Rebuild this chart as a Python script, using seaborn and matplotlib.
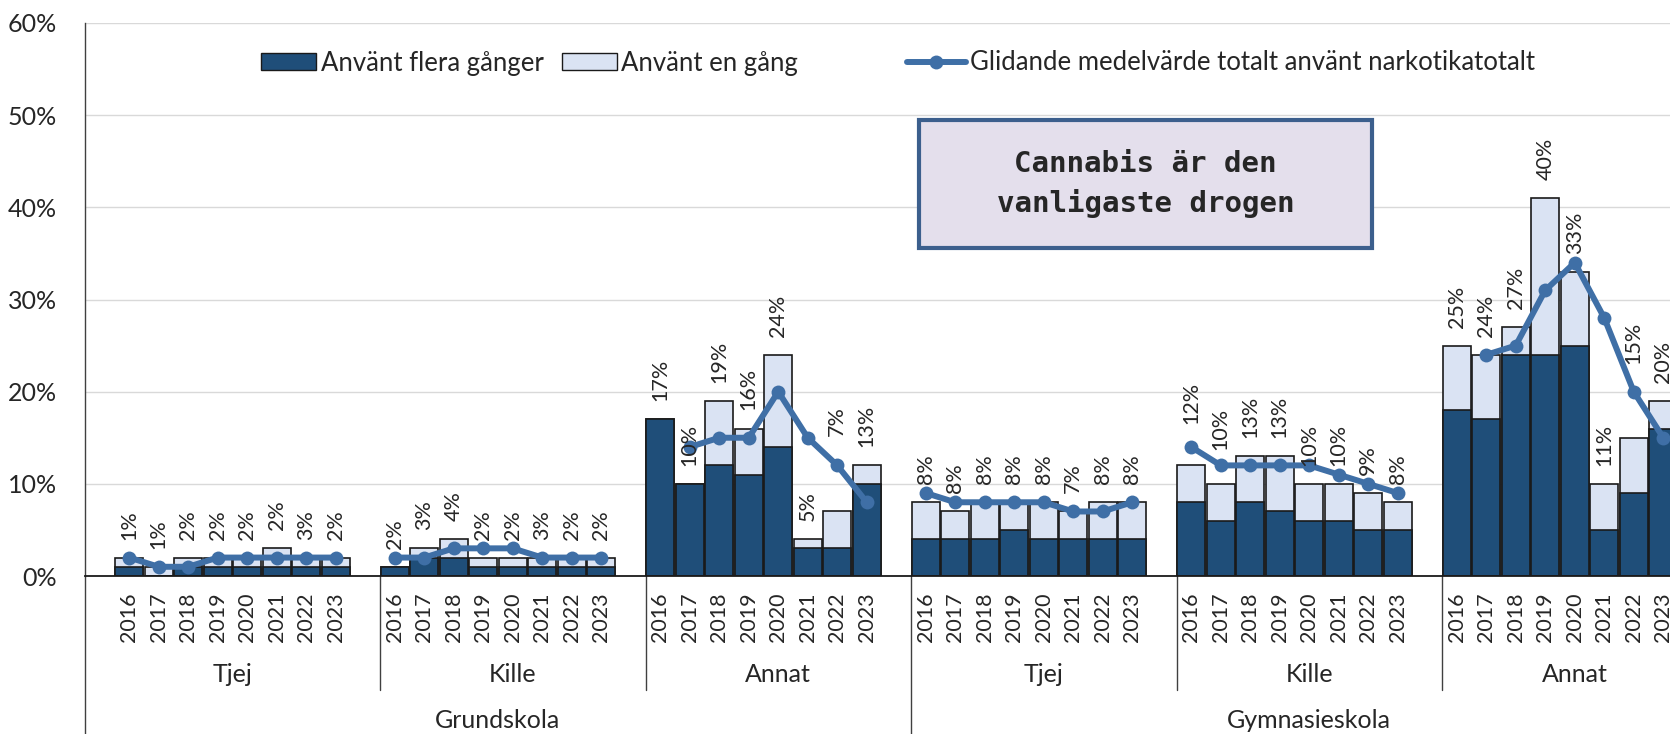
import numpy as np
import pandas as pd
import matplotlib
matplotlib.use("Agg")
import matplotlib.pyplot as plt
import matplotlib.transforms as mtransforms
from matplotlib.patches import Patch, Rectangle
from matplotlib.lines import Line2D
import seaborn as sns

years = ["2016", "2017", "2018", "2019", "2020", "2021", "2022", "2023"]
schools = ["Grundskola", "Gymnasieskola"]
genders = ["Tjej", "Kille", "Annat"]

# använt flera gånger (%)
flera_grund_tjej = [1, 0, 1, 1, 1, 1, 1, 1]
flera_grund_kille = [1, 2, 2, 1, 1, 1, 1, 1]
flera_grund_annat = [17, 10, 12, 11, 14, 3, 3, 10]
flera_gymn_tjej = [4, 4, 4, 5, 4, 4, 4, 4]
flera_gymn_kille = [8, 6, 8, 7, 6, 6, 5, 5]
flera_gymn_annat = [18, 17, 24, 24, 25, 5, 9, 16]

# använt en gång (%)
en_grund_tjej = [1, 1, 1, 1, 1, 2, 1, 1]
en_grund_kille = [0, 1, 2, 1, 1, 1, 1, 1]
en_grund_annat = [0, 0, 7, 5, 10, 1, 4, 2]
en_gymn_tjej = [4, 3, 4, 3, 4, 3, 4, 4]
en_gymn_kille = [4, 4, 5, 6, 4, 4, 4, 3]
en_gymn_annat = [7, 7, 3, 17, 8, 5, 6, 3]

# glidande medelvärde (%)
avg_grund_tjej = [2, 1, 1, 2, 2, 2, 2, 2]
avg_grund_kille = [2, 2, 3, 3, 3, 2, 2, 2]
avg_grund_annat = [np.nan, 14, 15, 15, 20, 15, 12, 8]
avg_gymn_tjej = [9, 8, 8, 8, 8, 7, 7, 8]
avg_gymn_kille = [14, 12, 12, 12, 12, 11, 10, 9]
avg_gymn_annat = [np.nan, 24, 25, 31, 34, 28, 20, 15]

# datalabels (totalt använt, %)
lab_grund_tjej = [1, 1, 2, 2, 2, 2, 3, 2]
lab_grund_kille = [2, 3, 4, 2, 2, 3, 2, 2]
lab_grund_annat = [17, 10, 19, 16, 24, 5, 7, 13]
lab_gymn_tjej = [8, 8, 8, 8, 8, 7, 8, 8]
lab_gymn_kille = [12, 10, 13, 13, 10, 10, 9, 8]
lab_gymn_annat = [25, 24, 27, 40, 33, 11, 15, 20]

# labels that sit higher than their bar in the original (index -> value)
label_height_override = {22: 13.2, 32: 14.5, 33: 11.7, 46: 21.0}

flera = [flera_grund_tjej, flera_grund_kille, flera_grund_annat,
         flera_gymn_tjej, flera_gymn_kille, flera_gymn_annat]
en = [en_grund_tjej, en_grund_kille, en_grund_annat,
      en_gymn_tjej, en_gymn_kille, en_gymn_annat]
avg = [avg_grund_tjej, avg_grund_kille, avg_grund_annat,
       avg_gymn_tjej, avg_gymn_kille, avg_gymn_annat]
labs = [lab_grund_tjej, lab_grund_kille, lab_grund_annat,
        lab_gymn_tjej, lab_gymn_kille, lab_gymn_annat]

rows = []
for g in range(6):
    for k, yr in enumerate(years):
        rows.append({"group": g, "year": yr, "pos": 1 + 9 * g + k,
                     "flera": flera[g][k], "en": en[g][k],
                     "total": flera[g][k] + en[g][k],
                     "avg": avg[g][k], "label": labs[g][k]})
df = pd.DataFrame(rows)

dark = "#1F4E79"
light = "#DAE3F3"
line_col = "#3F6FA6"
edge = "#1a1a1a"

sns.set_style("white")
plt.rcParams["font.family"] = ["Lato", "DejaVu Sans"]

fig = plt.figure(figsize=(16.7, 7.34), dpi=100)
slot = 29.5
ax = fig.add_axes([85 / 1670, 158 / 734, 55 * slot / 1670, 553 / 734])

sns.barplot(data=df, x="pos", y="total", native_scale=True, width=0.95,
            color=light, saturation=1, edgecolor=edge, linewidth=1.2,
            errorbar=None, ax=ax)
sns.barplot(data=df, x="pos", y="flera", native_scale=True, width=0.95,
            color=dark, saturation=1, edgecolor=edge, linewidth=1.2,
            errorbar=None, ax=ax)
sns.lineplot(data=df.dropna(subset=["avg"]), x="pos", y="avg", units="group",
             estimator=None, color=line_col, lw=4.3, marker="o",
             markersize=10, markeredgewidth=0, legend=False, ax=ax)

ax.set_xlim(-0.5, 54.5)
ax.set_ylim(0, 60)
ax.set_xlabel("")
ax.set_ylabel("")
ax.set_yticks(range(0, 61, 10))
ax.set_yticklabels([f"{v}%" for v in range(0, 61, 10)], fontsize=18)
ax.set_xticks(df["pos"])
ax.set_xticklabels(df["year"], rotation=90, fontsize=15.5)
ax.tick_params(axis="x", length=0, pad=12)
ax.tick_params(axis="y", length=0, pad=20)
ax.yaxis.grid(True, color="#d9d9d9", lw=1)
ax.set_axisbelow(True)
for s in ["top", "right"]:
    ax.spines[s].set_visible(False)
ax.spines["left"].set_color("#404040")
ax.spines["left"].set_linewidth(1)
ax.spines["bottom"].set_color("#1a1a1a")
ax.spines["bottom"].set_linewidth(1.3)

# data labels
for i, r in df.iterrows():
    y = label_height_override.get(i, r["total"])
    ax.annotate(f"{r['label']}%", (r["pos"], y), xytext=(0, 13),
                textcoords="offset points", rotation=90, ha="center",
                va="bottom", fontsize=15.5, zorder=5)

# multi-level category axis
trans = mtransforms.blended_transform_factory(ax.transData, ax.transAxes)
for g in range(6):
    start = -0.5 if g == 0 else 9.5 + 9 * (g - 1)
    end = 9.5 + 9 * g
    ax.text((start + end) / 2, -0.179, genders[g % 3], transform=trans,
            ha="center", va="center", fontsize=18)
    bottom = -0.29 if g in (2, 5) else -0.206
    ax.plot([end, end], [0, bottom], transform=trans, color="#404040",
            lw=1, clip_on=False)
ax.plot([-0.5, -0.5], [0, -0.29], transform=trans, color="#404040",
        lw=1, clip_on=False)
ax.text(13.5, -0.262, schools[0], transform=trans, ha="center",
        va="center", fontsize=18)
ax.text(41.0, -0.262, schools[1], transform=trans, ha="center",
        va="center", fontsize=18)

# legends
bar_handles = [Patch(facecolor=dark, edgecolor=edge),
               Patch(facecolor=light, edgecolor=edge)]
fig.legend(bar_handles, ["Använt flera gånger", "Använt en gång"],
           loc="center left", bbox_to_anchor=(248 / 1670, 1 - 63 / 734),
           ncol=2, frameon=False, borderpad=0, handlelength=2.15,
           handleheight=0.6, handletextpad=0.18, columnspacing=0.7,
           fontsize=18.5)
line_handle = Line2D([], [], color=line_col, lw=4.3, marker="o",
                     markersize=10, markeredgewidth=0)
fig.legend([line_handle], ["Glidande medelvärde totalt använt narkotikatotalt"],
           loc="center left", bbox_to_anchor=(894 / 1670, 1 - 63 / 734),
           frameon=False, borderpad=0, handlelength=2.3,
           handletextpad=0.15, fontsize=18.5)

# text box
fig.patches.append(Rectangle((919 / 1670, 1 - 248 / 734), 453 / 1670,
                             128 / 734, transform=fig.transFigure,
                             facecolor="#E4DFEC", edgecolor="#3C5F8D",
                             lw=3, zorder=10))
fig.text(1145.5 / 1670, 1 - 184 / 734, "Cannabis är den\nvanligaste drogen",
         ha="center", va="center", fontsize=21, fontweight="bold",
         family="DejaVu Sans Mono", linespacing=1.5, zorder=11)

fig.savefig("out.png", dpi=100)
